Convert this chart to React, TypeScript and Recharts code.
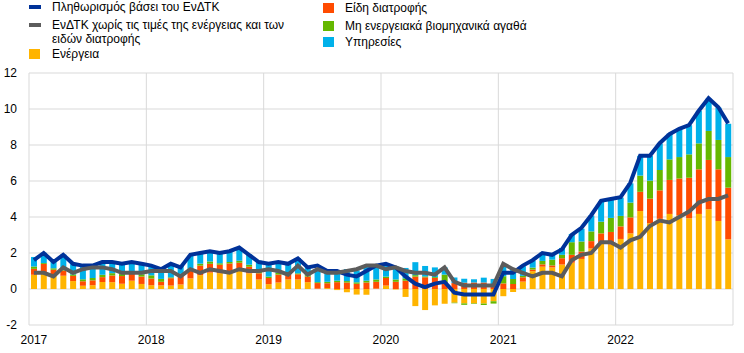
import { ComposedChart, Bar, Line, XAxis, YAxis, CartesianGrid } from 'recharts';

const years = [2017, 2018, 2019, 2020, 2021, 2022];

// contributions in percentage points
const energy = [
  0.79, 0.9, 0.72, 0.74, 0.44, 0.18, 0.21, 0.39, 0.38, 0.29, 0.46, 0.28,
  0.21, 0.2, 0.19, 0.25, 0.59, 0.77, 0.91, 0.88, 0.91, 1.03, 0.87, 0.53,
  0.27, 0.36, 0.53, 0.53, 0.38, 0.02, 0.05, -0.06, -0.18, -0.31, -0.32, 0.02,
  0.19, -0.03, -0.44, -0.95, -1.17, -0.91, -0.82, -0.76, -0.8, -0.8, -0.81, -0.68,
  -0.4, -0.16, 0.41, 0.99, 1.24, 1.2, 1.36, 1.46, 1.67, 2.25, 2.61, 2.47,
  2.78, 3.09, 4.33, 3.65, 3.9, 4.17, 4.08, 3.93, 4.17, 4.43, 3.78, 2.76,
];

const food = [
  0.33, 0.49, 0.35, 0.29, 0.29, 0.25, 0.27, 0.27, 0.37, 0.43, 0.43, 0.41,
  0.37, 0.2, 0.41, 0.51, 0.49, 0.53, 0.49, 0.47, 0.51, 0.43, 0.37, 0.35,
  0.34, 0.44, 0.29, 0.29, 0.31, 0.31, 0.27, 0.38, 0.36, 0.29, 0.36, 0.38,
  0.42, 0.4, 0.46, 0.69, 0.65, 0.61, 0.38, 0.33, 0.35, 0.36, 0.36, 0.25,
  0.31, 0.28, 0.24, 0.09, 0.13, 0.11, 0.35, 0.44, 0.41, 0.41, 0.48, 0.7,
  0.7, 0.89, 1.07, 1.37, 1.58, 1.89, 2.06, 2.25, 2.48, 2.74, 2.87, 2.87,
];

const neig = [
  0.13, 0.05, 0.08, 0.08, 0.08, 0.11, 0.13, 0.13, 0.13, 0.11, 0.11, 0.13,
  0.18, 0.16, 0.05, 0.08, 0.05, 0.11, 0.13, 0.08, 0.08, 0.11, 0.11, 0.11,
  0.08, 0.1, 0.05, 0.05, 0.08, 0.05, 0.08, 0.08, 0.08, 0.08, 0.1, 0.13,
  0.08, 0.13, 0.13, 0.08, 0.05, 0.05, 0.42, -0.03, -0.08, -0.03, -0.08, -0.13,
  0.4, 0.27, 0.08, 0.11, 0.19, 0.32, 0.19, 0.7, 0.56, 0.54, 0.65, 0.78,
  0.58, 0.82, 0.9, 1.0, 1.13, 1.14, 1.19, 1.3, 1.44, 1.61, 1.63, 1.7,
];

const services = [
  0.53, 0.57, 0.44, 0.8, 0.57, 0.71, 0.71, 0.71, 0.66, 0.53, 0.53, 0.53,
  0.53, 0.58, 0.67, 0.44, 0.71, 0.58, 0.62, 0.58, 0.58, 0.71, 0.58, 0.58,
  0.72, 0.63, 0.58, 0.85, 0.45, 0.72, 0.54, 0.58, 0.67, 0.67, 0.85, 0.8,
  0.67, 0.72, 0.58, 0.72, 0.58, 0.54, 0.4, 0.31, 0.22, 0.18, 0.27, 0.31,
  0.59, 0.54, 0.54, 0.38, 0.46, 0.29, 0.38, 0.46, 0.71, 0.88, 1.13, 1.01,
  1.02, 1.07, 1.1, 1.38, 1.47, 1.43, 1.57, 1.62, 1.81, 1.8, 1.8, 1.85,
];

const headline = [
  1.6, 2.0, 1.5, 1.9, 1.4, 1.3, 1.3, 1.5, 1.5, 1.4, 1.5, 1.4,
  1.3, 1.1, 1.4, 1.2, 1.9, 2.0, 2.1, 2.0, 2.1, 2.3, 1.9, 1.5,
  1.4, 1.5, 1.4, 1.7, 1.2, 1.3, 1.0, 1.0, 0.8, 0.7, 1.0, 1.3,
  1.4, 1.2, 0.7, 0.3, 0.1, 0.3, 0.4, -0.2, -0.3, -0.3, -0.3, -0.3,
  0.9, 0.9, 1.3, 1.6, 2.0, 1.9, 2.2, 3.0, 3.4, 4.1, 4.9, 5.0,
  5.1, 5.9, 7.4, 7.4, 8.1, 8.6, 8.9, 9.1, 9.9, 10.6, 10.1, 9.2,
];

const core = [
  0.9, 0.9, 0.7, 1.2, 0.9, 1.1, 1.2, 1.2, 1.1, 0.9, 0.9, 0.9,
  1.0, 1.0, 1.0, 0.7, 1.1, 0.9, 1.1, 1.0, 0.9, 1.1, 1.0, 1.0,
  1.1, 1.0, 0.8, 1.3, 0.8, 1.1, 0.9, 0.9, 1.0, 1.1, 1.3, 1.3,
  1.1, 1.2, 1.0, 0.9, 0.9, 0.8, 1.2, 0.4, 0.2, 0.2, 0.2, 0.2,
  1.4, 1.1, 0.9, 0.7, 0.9, 0.9, 0.7, 1.6, 1.9, 2.0, 2.6, 2.6,
  2.3, 2.7, 2.9, 3.5, 3.8, 3.7, 4.0, 4.3, 4.8, 5.0, 5.0, 5.2,
];

const yTicks = [-2, 0, 2, 4, 6, 8, 10, 12];

const months: string[] = [];
years.forEach((y) => {
  for (let m = 1; m <= 12; m++) months.push(`${y}-${String(m).padStart(2, '0')}`);
});
const yearTicks = years.map((y) => `${y}-01`);
const gridTicks = [0, 12, 24, 36, 48, 60, 72];

const data = months.map((month, i) => ({
  month,
  pos: i + 0.5,
  energy: energy[i],
  food: food[i],
  neig: neig[i],
  services: services[i],
  headline: headline[i],
  core: core[i],
}));

const FONT = '"Liberation Sans", Arial, sans-serif';

const lineKey = (color: string, left: number, top: number) => (
  <div style={{ position: 'absolute', left, top, width: 12, height: 4, background: color }} />
);
const boxKey = (color: string, left: number, top: number) => (
  <div style={{ position: 'absolute', left, top, width: 11, height: 10, background: color }} />
);
const label = (text: string, left: number, center: number) => (
  <div
    style={{
      position: 'absolute',
      left,
      top: center - 7,
      lineHeight: '14px',
      fontSize: 12,
      whiteSpace: 'nowrap',
      color: '#000',
    }}
  >
    {text}
  </div>
);

export default function App() {
  return (
    <div style={{ position: 'absolute', left: 0, top: 0, width: 744, height: 353, background: '#fff', fontFamily: FONT }}>
      {lineKey('#003299', 29, 5)}
      {label('Πληθωρισμός βάσει του ΕνΔΤΚ', 52, 7)}
      {lineKey('#5c5c5c', 29, 23)}
      {label('ΕνΔΤΚ χωρίς τις τιμές της ενέργειας και των', 52, 24.5)}
      {label('ειδών διατροφής', 52, 38.5)}
      {boxKey('#ffb400', 29, 49)}
      {label('Ενέργεια', 52, 54)}
      {boxKey('#ff4b00', 323, 3)}
      {label('Είδη διατροφής', 345, 8)}
      {boxKey('#65b800', 323, 21)}
      {label('Μη ενεργειακά βιομηχανικά αγαθά', 345, 25.5)}
      {boxKey('#00b1ea', 323, 37)}
      {label('Υπηρεσίες', 345, 41.5)}

      <ComposedChart
        width={744}
        height={353}
        data={data}
        stackOffset="sign"
        margin={{ top: 73, right: 11, bottom: 0, left: 0 }}
        style={{ position: 'absolute', left: 0, top: 0, fontFamily: FONT }}
      >
        <XAxis xAxisId="num" type="number" dataKey="pos" domain={[0, 72]} ticks={gridTicks} hide />
        <CartesianGrid xAxisId="num" stroke="#d9d9d9" />
        <XAxis
          xAxisId="cat"
          dataKey="month"
          ticks={yearTicks}
          interval={0}
          tickFormatter={(v: string) => v.slice(0, 4)}
          axisLine={false}
          tickLine={false}
          tickSize={0}
          tickMargin={10}
          height={28}
          tick={{ fill: '#000', fontSize: 12 }}
        />
        <YAxis
          domain={[-2, 12]}
          ticks={yTicks}
          axisLine={false}
          tickLine={false}
          tickSize={0}
          tickMargin={12}
          width={29}
          tick={{ fill: '#000', fontSize: 12 }}
        />
        <Bar xAxisId="cat" dataKey="energy" stackId="a" fill="#ffb400" barSize={6} isAnimationActive={false} />
        <Bar xAxisId="cat" dataKey="food" stackId="a" fill="#ff4b00" barSize={6} isAnimationActive={false} />
        <Bar xAxisId="cat" dataKey="neig" stackId="a" fill="#65b800" barSize={6} isAnimationActive={false} />
        <Bar xAxisId="cat" dataKey="services" stackId="a" fill="#00b1ea" barSize={6} isAnimationActive={false} />
        <Line xAxisId="cat" type="linear" dataKey="headline" stroke="#003299" strokeWidth={4} dot={false} isAnimationActive={false} />
        <Line xAxisId="cat" type="linear" dataKey="core" stroke="#5c5c5c" strokeWidth={4} dot={false} isAnimationActive={false} />
      </ComposedChart>
    </div>
  );
}
